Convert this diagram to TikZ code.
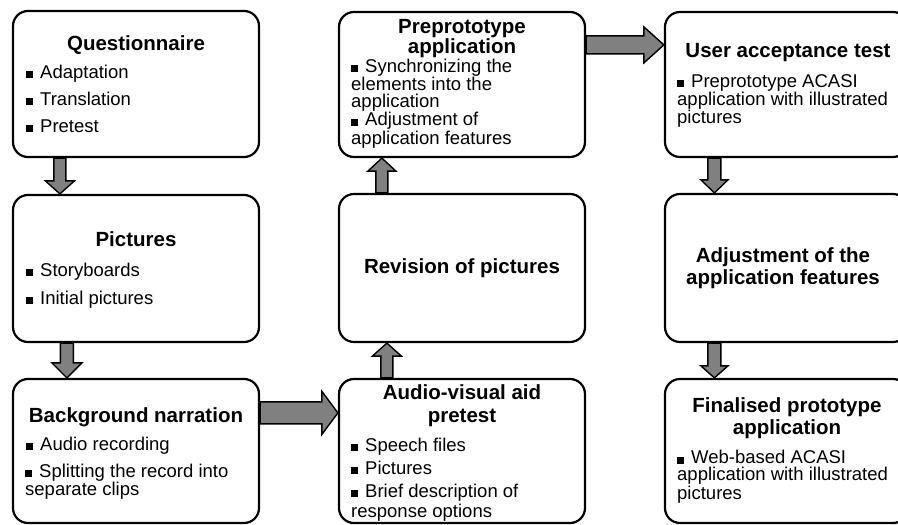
\documentclass[tikz,border=0pt]{standalone}
\usepackage{fontspec}
\setmainfont{Liberation Sans}
\usetikzlibrary{calc}
\newcommand\titlefnt{\fontsize{20.5pt}{21.5pt}\selectfont\bfseries}
\newcommand\bodyfnt{\fontsize{18.5pt}{17.5pt}\selectfont}
\newcommand\sq{\rule{7pt}{7pt}\hspace{7pt}}
\tikzset{
  box/.style={draw=black, line width=2.2pt, fill=white, rounded corners=15pt, inner sep=0pt},
  ttl/.style={inner sep=0pt, anchor=base, font=\titlefnt, align=center},
  itm/.style={inner sep=0pt, anchor=base west, font=\bodyfnt, align=left},
  barrow/.style={draw=black, line width=1.4pt, fill=black!50, line join=miter}
}
% down arrow: from, to, x offset, shaft half, head half, head length
\newcommand\barrowdown[6]{%
  \draw[barrow] let \p1=(#1.south west), \p2=(#2.north west) in
   (\x1+#3-#4,\y1) -- (\x1+#3+#4,\y1) -- (\x1+#3+#4,\y2+#6) -- (\x1+#3+#5,\y2+#6)
   -- (\x1+#3,\y2) -- (\x1+#3-#5,\y2+#6) -- (\x1+#3-#4,\y2+#6) -- cycle;}
\newcommand\barrowup[6]{%
  \draw[barrow] let \p1=(#1.north west), \p2=(#2.south west) in
   (\x1+#3-#4,\y1) -- (\x1+#3+#4,\y1) -- (\x1+#3+#4,\y2-#6) -- (\x1+#3+#5,\y2-#6)
   -- (\x1+#3,\y2) -- (\x1+#3-#5,\y2-#6) -- (\x1+#3-#4,\y2-#6) -- cycle;}
\newcommand\barrowright[6]{%
  \draw[barrow] let \p1=(#1.north east), \p2=(#2.north west) in
   (\x1,\y1-#3+#4) -- (\x1,\y1-#3-#4) -- (\x2-#6,\y1-#3-#4) -- (\x2-#6,\y1-#3-#5)
   -- (\x2,\y1-#3) -- (\x2-#6,\y1-#3+#5) -- (\x2-#6,\y1-#3+#4) -- cycle;}
\begin{document}
\begin{tikzpicture}[x=1pt,y=-1pt]
\useasboundingbox (0,0) rectangle (898,525);
\clip (0,0) rectangle (898,525);
% boxes
\node[box, minimum width=246pt, minimum height=146pt] (q) at (136,84) {};
\node[box, minimum width=246pt, minimum height=147pt] (pic) at (136,268.5) {};
\node[box, minimum width=246pt, minimum height=144pt] (bg) at (136,451) {};
\node[box, minimum width=246pt, minimum height=145pt] (pre) at (462,84.5) {};
\node[box, minimum width=246pt, minimum height=148pt] (rev) at (462,268) {};
\node[box, minimum width=246pt, minimum height=144pt] (av) at (462,451) {};
\node[box, minimum width=243pt, minimum height=145pt] (uat) at (786.5,84.5) {};
\node[box, minimum width=243pt, minimum height=148pt] (adj) at (786.5,268) {};
\node[box, minimum width=243pt, minimum height=144pt] (fin) at (786.5,451) {};
% arrows
\barrowdown{q}{pic}{48pt}{6pt}{14.5pt}{13pt}
\barrowdown{pic}{bg}{55pt}{6.5pt}{15pt}{15pt}
\barrowright{bg}{av}{35pt}{11pt}{21.5pt}{16pt}
\barrowup{av}{rev}{49pt}{6pt}{14.5pt}{13pt}
\barrowup{rev}{pre}{44pt}{6pt}{14pt}{13pt}
\barrowright{pre}{uat}{34pt}{9pt}{18pt}{20pt}
\barrowdown{uat}{adj}{50.5pt}{6.5pt}{13.5pt}{13pt}
\barrowdown{adj}{fin}{50.5pt}{6.5pt}{13.5pt}{12pt}
% texts: Questionnaire
\node[ttl] (qt) at (136,50) {Questionnaire};
\node[itm] (q1) at (26,78) {\sq Adaptation};
\node[itm] (q2) at (26,105) {\sq Translation};
\node[itm] (q3) at (26,132) {\sq Pretest};
% Pictures
\node[ttl] (pt) at (136,246) {Pictures};
\node[itm] (p1) at (26,276) {\sq Storyboards};
\node[itm] (p2) at (26,304) {\sq Initial pictures};
% Background narration
\node[ttl] (bt) at (136,422) {Background narration};
\node[itm] (b1) at (26,450) {\sq Audio recording};
\node[itm, font=\fontsize{18.5pt}{18pt}\selectfont] (b2) at (25,495) {\sq Splitting the record into\\separate clips};
% Preprototype application
\node[ttl, font=\fontsize{20.5pt}{20pt}\selectfont\bfseries] (prt) at (462,53) {Preprototype\\application};
\node[itm, font=\fontsize{18.5pt}{16.5pt}\selectfont] (pr1) at (351,107) {\sq Synchronizing the\\elements into the\\application};
\node[itm, font=\fontsize{18.5pt}{17pt}\selectfont] (pr2) at (351,144) {\sq Adjustment of\\application features};
% Revision
\node[inner sep=0pt, font=\titlefnt] (rt) at (462,268) {Revision of pictures};
% Audio-visual aid pretest
\node[ttl, font=\fontsize{20.5pt}{23pt}\selectfont\bfseries] (at) at (462,422) {Audio-visual aid\\pretest};
\node[itm] (a1) at (351,451) {\sq Speech files};
\node[itm] (a2) at (351,474) {\sq Pictures};
\node[itm, font=\fontsize{18.5pt}{20pt}\selectfont] (a3) at (351,517) {\sq Brief description of\\response options};
% User acceptance test
\node[ttl] (ut) at (788,57) {User acceptance test};
\node[itm, font=\fontsize{18.5pt}{18pt}\selectfont] (u1) at (677,123) {\sq Preprototype ACASI\\application with illustrated\\pictures};
% Adjustment
\node[ttl] (adt) at (783,284) {Adjustment of the\\application features};
% Finalised
\node[ttl, font=\fontsize{20.5pt}{22pt}\selectfont\bfseries] (ft) at (787,434) {Finalised prototype\\application};
\node[itm, font=\fontsize{18.5pt}{17pt}\selectfont] (f1) at (677,499) {\sq Web-based ACASI\\application with illustrated\\pictures};
\end{tikzpicture}
\end{document}
